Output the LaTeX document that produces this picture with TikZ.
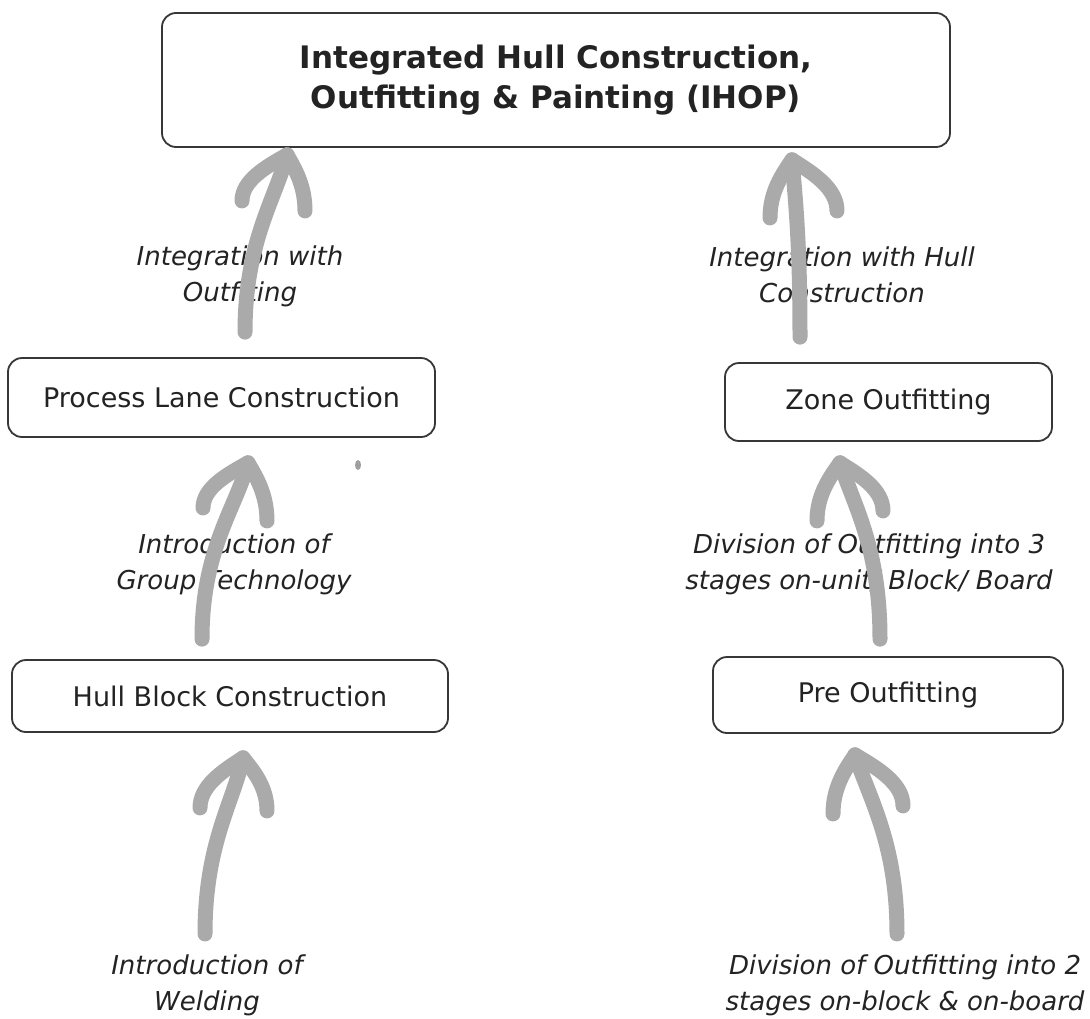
\documentclass[tikz,border=0pt]{standalone}
\usepackage{fontspec}
\setmainfont{DejaVu Sans}
\usetikzlibrary{calc}
\definecolor{arrowgray}{RGB}{170,170,170}
\definecolor{boxline}{RGB}{55,55,55}
\definecolor{inktext}{RGB}{35,35,35}
\tikzset{
  stage/.style={draw=boxline, line width=1.8pt, rounded corners=14pt, text=inktext,
    font=\fontsize{27}{30}\selectfont, inner sep=0pt},
  topstage/.style={stage, font=\fontsize{31}{40}\selectfont\bfseries, align=center},
  remark/.style={text=inktext, font=\fontsize{26}{36}\selectfont\itshape, align=center, inner sep=0pt},
  shaft/.style={draw=arrowgray, line width=15pt, line cap=round},
  barb/.style={draw=arrowgray, line width=15pt, line cap=round, line join=round},
}
% hand-drawn style arrow: tail, tip, left barb (dx,dy), right barb (dx,dy), bend of shaft near tip
\newcommand{\sketcharrow}[7]{%
  \draw[shaft] (#1) .. controls +(0,-90) and +(#7,45) .. (#2);
  \draw[barb] (#2) .. controls +(0.45*#3,0.25*#4) and +(0,-0.45*#4) .. ++(#3,#4);
  \draw[barb] (#2) .. controls +(0.45*#5,0.25*#6) and +(0,-0.45*#6) .. ++(#5,#6);
}
\begin{document}
\begin{tikzpicture}[x=1pt,y=-1pt]
  \useasboundingbox[fill=white] (0,0) rectangle (1090,1018);

  % stages
  \node[topstage, minimum width=788pt, minimum height=134pt] (ihop) at (556,80)
    {Integrated Hull Construction,\\Outfitting \& Painting (IHOP)};
  \node[stage, minimum width=427pt, minimum height=79pt] (plc) at (221.5,397.5) {Process Lane Construction};
  \node[stage, minimum width=436pt, minimum height=72pt] (hbc) at (230,696) {Hull Block Construction};
  \node[stage, minimum width=327pt, minimum height=78pt] (zone) at (888.5,402) {Zone Outfitting};
  \node[stage, minimum width=350pt, minimum height=76pt] (pre) at (888,695) {Pre Outfitting};

  % remarks beside the arrows
  \node[remark] (r1) at (240,276) {Integration with\\Outfiting};
  \node[remark] (r2) at (842,275) {Integration with Hull\\Construction};
  \node[remark] (r3) at (234,564) {Introduction of\\Group Technology};
  \node[remark] (r4) at (869,564) {Division of Outfitting into 3\\stages on-unit/ Block/ Board};
  \node[remark] (r5) at (207,985) {Introduction of\\Welding};
  \node[remark] (r6) at (905,985) {Division of Outfitting into 2\\stages on-block \& on-board};

  % arrow end points
  \coordinate (t1) at ($(ihop.south -| plc.center)+(65.5,7)$);
  \coordinate (s1) at ($(plc.north)+(23.5,-25)$);
  \coordinate (t2) at ($(plc.south)+(26.5,25)$);
  \coordinate (s2) at ($(hbc.north)+(-28,-20)$);
  \coordinate (t3) at ($(hbc.south)+(13,25)$);
  \coordinate (s3) at ($(hbc.south)+(-25,201)$);
  \coordinate (t4) at ($(ihop.south -| zone.center)+(-96.5,12)$);
  \coordinate (s4) at ($(zone.north)+(-88.5,-25)$);
  \coordinate (t5) at ($(zone.south)+(-48.5,21)$);
  \coordinate (s5) at ($(pre.north)+(-8,-17)$);
  \coordinate (t6) at ($(pre.south)+(-33,21)$);
  \coordinate (s6) at ($(pre.south)+(9,200)$);

  % arrows
  \sketcharrow{s1}{t1}{-45}{46}{18}{56}{-12}
  \sketcharrow{s2}{t2}{-45}{45}{19}{58}{-12}
  \sketcharrow{s3}{t3}{-43}{50}{24}{53}{-10}
  \sketcharrow{s4}{t4}{-22}{58}{45}{51}{4}
  \sketcharrow{s5}{t5}{-23}{58}{43}{48}{15}
  \sketcharrow{s6}{t6}{-22}{59}{48}{51}{15}

  % small speck
  \fill[gray!75] (358,465) ellipse (3 and 5);
\end{tikzpicture}
\end{document}
